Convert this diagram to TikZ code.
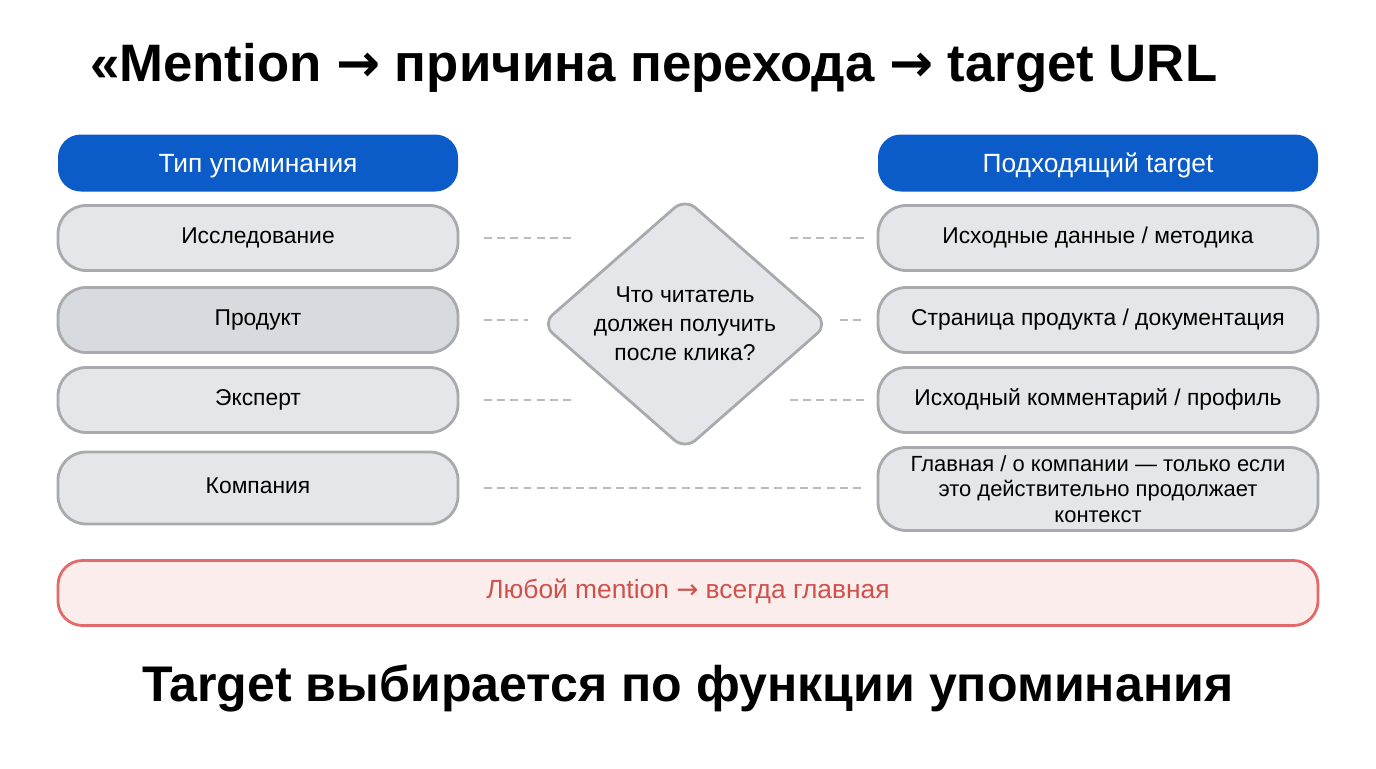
\documentclass[tikz,border=0pt]{standalone}
\usepackage{fontspec}
\setmainfont{Liberation Sans}
\newfontfamily\arr{DejaVu Sans}
\newcommand{\ra}{{\arr →}}
\usetikzlibrary{shapes.geometric}
\definecolor{hdr}{HTML}{0B5CC8}
\definecolor{boxf}{HTML}{E4E6E9}
\definecolor{boxf2}{HTML}{D7DADE}
\definecolor{boxd}{HTML}{A8AAAD}
\definecolor{redd}{HTML}{E36A6A}
\definecolor{redf}{HTML}{FCEDED}
\definecolor{redt}{HTML}{D0504C}
\begin{document}
\begin{tikzpicture}[x=0.02cm,y=-0.02cm,
 hd/.style={rounded corners=13pt,fill=hdr,text=white,font=\fontsize{15}{17}\selectfont,minimum height=57*0.02cm,inner sep=0pt,text depth=0pt,yshift=-2pt},
 bx/.style={rounded corners=16pt,fill=boxf,draw=boxd,line width=1.6pt,font=\fontsize{13}{15}\selectfont,minimum height=65*0.02cm,inner sep=0pt,align=center},
 dl/.style={draw=boxd!80,line width=1.3pt,dash pattern=on 4.5pt off 3pt}]
\useasboundingbox (0,0) rectangle (1376,768);
\node[font=\bfseries\fontsize{30}{34}\selectfont,anchor=west] (t) at (84,68) {«Mention \ra{} причина перехода \ra{} target URL};
\node[hd,minimum width=400*0.02cm] (h1) at (258,159.5) {Тип упоминания};
\node[hd,minimum width=440*0.02cm] (h2) at (1098,159.5) {Подходящий target};
\node[bx,minimum width=400*0.02cm] (l1) at (258,238) {\strut Исследование};
\node[bx,minimum width=400*0.02cm,fill=boxf2] (l2) at (258,320) {\strut Продукт};
\node[bx,minimum width=400*0.02cm] (l3) at (258,400) {\strut Эксперт};
\node[bx,minimum width=400*0.02cm,minimum height=72*0.02cm] (l4) at (258,488) {\strut Компания};
\node[bx,minimum width=440*0.02cm] (r1) at (1098,238) {\strut Исходные данные / методика};
\node[bx,minimum width=440*0.02cm] (r2) at (1098,320) {\strut Страница продукта / документация};
\node[bx,minimum width=440*0.02cm] (r3) at (1098,400) {\strut Исходный комментарий / профиль};
\node[bx,minimum width=440*0.02cm,minimum height=83*0.02cm,font=\fontsize{12.5}{14.5}\selectfont] (r4) at (1098,489) {Главная / о компании — только если\\это действительно продолжает\\контекст};
\node[diamond,fill=boxf,draw=boxd,line width=1.6pt,rounded corners=8pt,minimum width=287*0.02cm,minimum height=252*0.02cm,inner sep=0pt,aspect=1.14,align=center,font=\fontsize{13}{16.5}\selectfont] (d) at (685,324) {Что читатель\\должен получить\\после клика?};
\node[rounded corners=14pt,fill=redf,draw=redd,line width=1.6pt,minimum width=1260*0.02cm,minimum height=65*0.02cm,inner sep=0pt,text=redt,font=\fontsize{15}{17}\selectfont] (red) at (688,593) {\strut Любой mention \ra{} всегда главная};
\node[font=\bfseries\fontsize{28.5}{32}\selectfont] (b) at (688,688) {Target выбирается по функции упоминания};
\coordinate (a1) at (575,238); \coordinate (b1) at (790,238);
\coordinate (a2) at (528,320); \coordinate (b2) at (840,320);
\coordinate (a3) at (575,400); \coordinate (b3) at (790,400);
\draw[dl] ([xshift=14pt]l1.east) -- (a1); \draw[dl] (b1) -- ([xshift=-7pt]r1.west);
\draw[dl] ([xshift=14pt]l2.east) -- (a2); \draw[dl] (b2) -- ([xshift=-7pt]r2.west);
\draw[dl] ([xshift=14pt]l3.east) -- (a3); \draw[dl] (b3) -- ([xshift=-7pt]r3.west);
\draw[dl] ([xshift=14pt]l4.east) -- ([xshift=-7pt]l4.east -| r4.west);
\end{tikzpicture}
\end{document}
